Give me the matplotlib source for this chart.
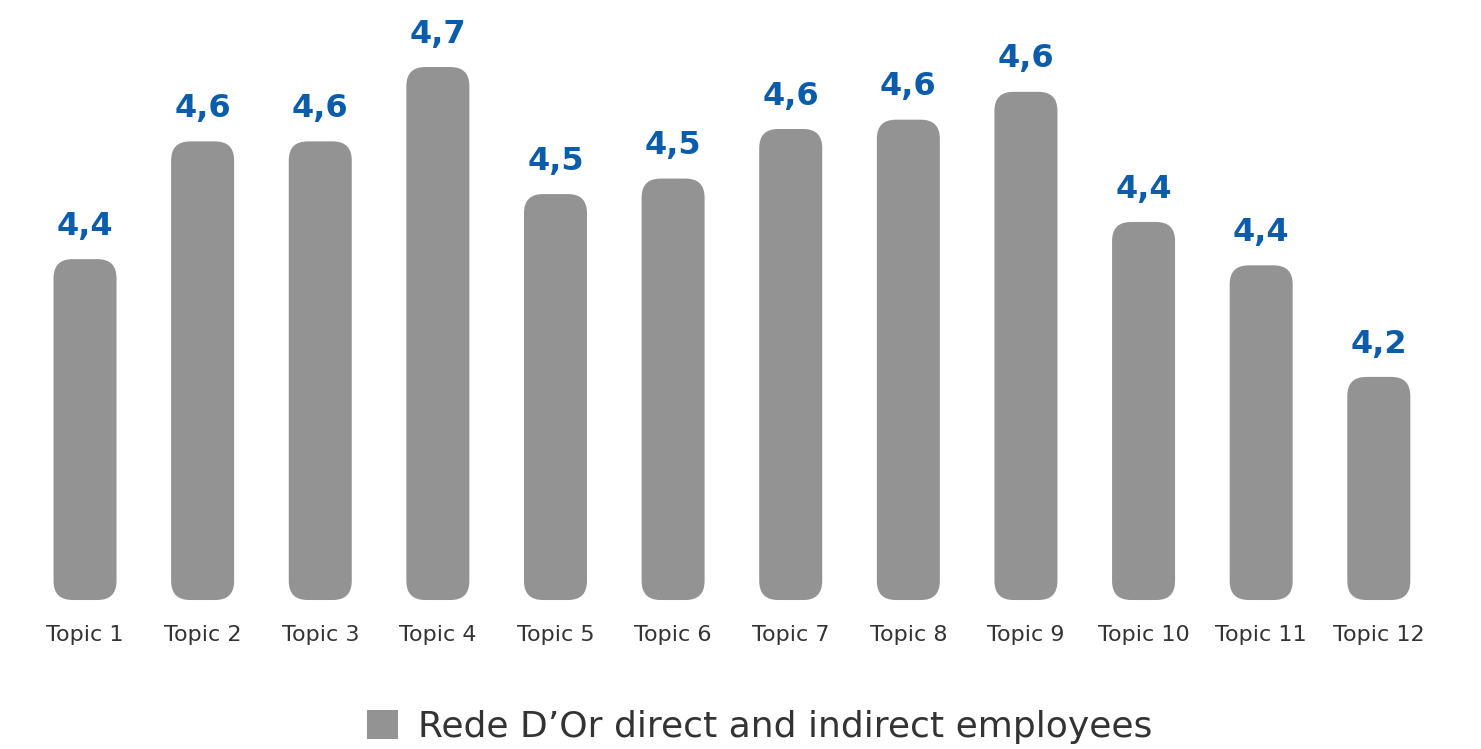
"""Rounded bar chart of topic scores with value labels above each bar."""

import matplotlib

matplotlib.use("Agg")
import matplotlib.pyplot as plt
from matplotlib.patches import FancyBboxPatch, Rectangle

topics = [f"Topic {i}" for i in range(1, 13)]
scores = [4.37, 4.56, 4.56, 4.68, 4.475, 4.50, 4.58, 4.595, 4.64, 4.43, 4.36, 4.18]
series_name = "Rede D\u2019Or direct and indirect employees"

BAR_COLOR = "#939393"
VALUE_COLOR = "#0B5CAB"
TEXT_COLOR = "#333333"
BASELINE = 3.82
Y_TOP = 4.788

plt.rcParams["font.family"] = ["DejaVu Sans"]

fig_w, fig_h, dpi = 14.81, 7.49, 100
fig = plt.figure(figsize=(fig_w, fig_h), dpi=dpi)
ax_rect = [0.0177, 0.1989, 0.953, 0.801]
ax = fig.add_axes(ax_rect)
ax.set_xlim(-0.5, len(topics) - 0.5)
ax.set_ylim(BASELINE, Y_TOP)
ax.axis("off")

# pixel sizes of one data unit, used to keep the corner rounding circular
px_per_x = ax_rect[2] * fig_w * dpi / len(topics)
px_per_y = ax_rect[3] * fig_h * dpi / (Y_TOP - BASELINE)
bar_width = 63 / px_per_x
radius_px = 19

for i, (name, value) in enumerate(zip(topics, scores)):
    bar = FancyBboxPatch(
        (i - bar_width / 2, BASELINE),
        bar_width,
        value - BASELINE,
        boxstyle=f"round,pad=0,rounding_size={radius_px / px_per_x}",
        mutation_aspect=px_per_x / px_per_y,
        facecolor=BAR_COLOR,
        edgecolor="none",
        clip_on=False,
    )
    ax.add_patch(bar)
    ax.annotate(
        f"{value:.1f}".replace(".", ","),
        (i, value),
        xytext=(0, 17.5),
        textcoords="offset points",
        ha="center",
        va="baseline",
        fontsize=23,
        fontweight="bold",
        color=VALUE_COLOR,
        annotation_clip=False,
    )
    ax.annotate(
        name,
        (i, BASELINE),
        xytext=(0, -25),
        textcoords="offset points",
        ha="center",
        va="center",
        fontsize=16,
        color=TEXT_COLOR,
        annotation_clip=False,
    )

legend = fig.legend(
    handles=[Rectangle((0, 0), 1, 1, facecolor=BAR_COLOR, edgecolor="none")],
    labels=[series_name],
    loc="center",
    bbox_to_anchor=(0.513, 0.029),
    frameon=False,
    fontsize=26,
    handlelength=0.85,
    handleheight=0.85,
    handletextpad=0.55,
)
for text in legend.get_texts():
    text.set_color(TEXT_COLOR)

fig.savefig("out.png", dpi=dpi, facecolor="white")
plt.close(fig)
